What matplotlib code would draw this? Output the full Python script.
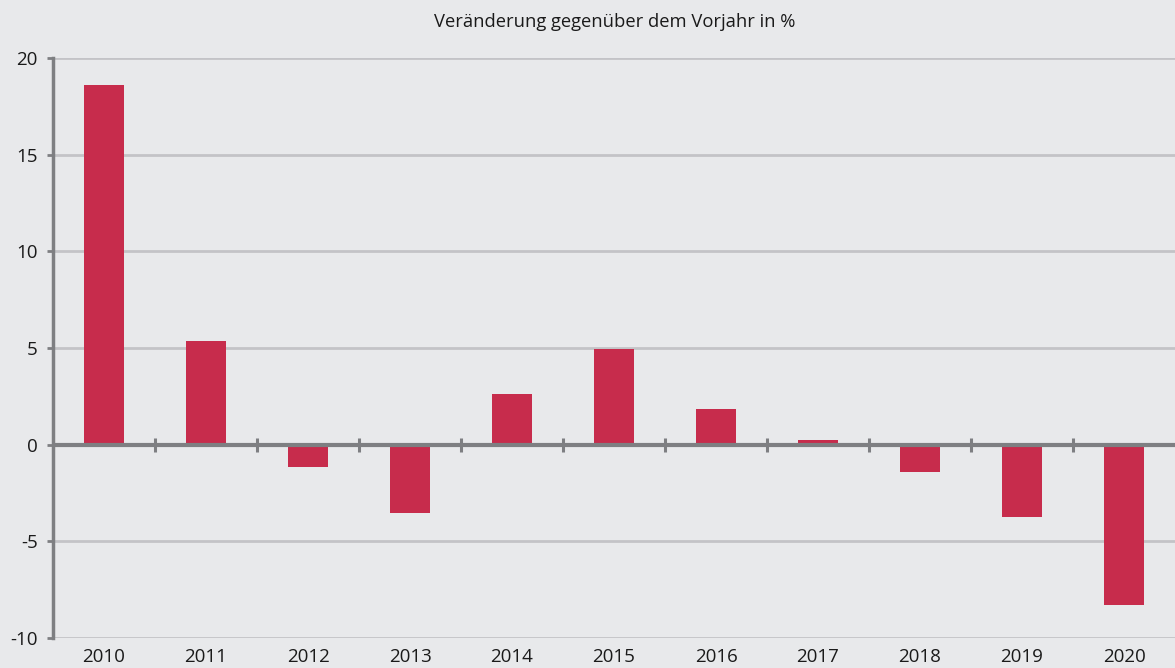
import numpy as np
import matplotlib
matplotlib.use("Agg")
from matplotlib import pyplot as plt

years = ["2010", "2011", "2012", "2013", "2014", "2015",
         "2016", "2017", "2018", "2019", "2020"]
change = [18.6, 5.35, -1.15, -3.55, 2.6, 4.95, 1.85, 0.22, -1.4, -3.75, -8.3]
yticks = [-10, -5, 0, 5, 10, 15, 20]

bg = "#e8e9eb"
bar_col = "#c72c4c"
axis_col = "#7e7f82"
grid_col = "#c3c3c7"

plt.rcParams["font.family"] = ["Open Sans", "DejaVu Sans"]

fig = plt.figure(figsize=(11.75, 6.68), dpi=100, facecolor=bg)
ax = fig.add_axes([53 / 1175, 30 / 668, 1 - 53 / 1175, 610 / 668 - 30 / 668])
ax.set_facecolor(bg)

x = np.arange(len(years))
ax.bar(x, change, width=0.4, color=bar_col, zorder=3)

# horizontal grid, zero line on top
for v in yticks:
    if v != 0:
        ax.axhline(v, color=grid_col, lw=2, zorder=1)
ax.axhline(0, color=axis_col, lw=3, zorder=4)

# little ticks between the years on the zero line
bounds = x[:-1] + 0.5
ax.plot(bounds, np.zeros_like(bounds), ls="none", marker="|",
        markersize=10, markeredgewidth=2.2, color=axis_col, zorder=4)

ax.set_xlim(-0.5, len(years) - 0.5)
ax.set_ylim(-10, 20)
ax.set_yticks(yticks)
ax.set_yticklabels([str(v) for v in yticks])
ax.set_xticks(x)
ax.set_xticklabels(years)

for s in ["top", "right", "bottom"]:
    ax.spines[s].set_visible(False)
ax.spines["left"].set_color(axis_col)
ax.spines["left"].set_linewidth(2.5)
ax.spines["left"].set_zorder(5)

ax.tick_params(axis="y", length=4, width=2, color=axis_col, pad=7,
               labelsize=13.5, labelcolor="#1a1a1a")
ax.tick_params(axis="x", length=0, pad=7, labelsize=13.5, labelcolor="#1a1a1a")

fig.text(615 / 1175, 1 - 22 / 668, "Veränderung gegenüber dem Vorjahr in %",
         ha="center", va="center", fontsize=13.2, color="#1a1a1a")

fig.savefig("out.png", dpi=100, facecolor=bg)
